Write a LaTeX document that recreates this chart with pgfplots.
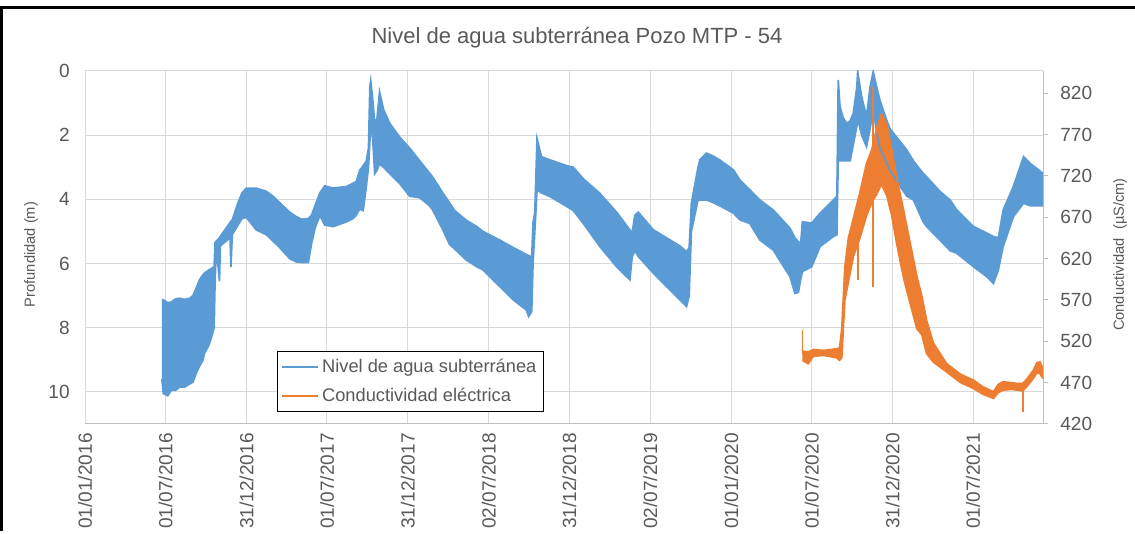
\documentclass[border=0pt]{standalone}
\usepackage{fontspec}
\setmainfont{Liberation Sans}
\usepackage{pgfplots}
\pgfplotsset{compat=1.18}
\usepackage{pgfplotstable}
\usepgfplotslibrary{fillbetween}
\definecolor{cblue}{HTML}{5B9BD5}
\definecolor{corange}{HTML}{ED7D31}
\definecolor{ctext}{HTML}{595959}
\definecolor{cgrid}{HTML}{D9D9D9}
\definecolor{caxis}{HTML}{BFBFBF}

\pgfplotstableread{
d u l
174 7.15 9.60
177 7.13 10.05
187 7.22 10.12
195 7.20 9.95
205 7.10 9.95
214 7.08 9.85
225 7.12 9.85
237 7.08 9.75
244 7.00 9.70
252 6.75 9.40
259 6.50 9.20
267 6.35 9.00
270 6.30 8.80
280 6.20 8.55
286 6.15 8.30
292 6.10 8.00
294 5.35 6.60
297 5.30 5.50
304 5.20 6.55
306 5.15 5.45
319 4.90 5.30
328 4.72 5.20
330 4.68 6.10
333 4.64 5.10
346 4.10 4.80
355 3.80 4.60
365 3.65 4.56
387 3.65 4.95
410 3.75 5.10
425 3.90 5.30
440 4.10 5.50
463 4.40 5.85
478 4.54 5.95
490 4.62 5.97
505 4.60 5.97
512 4.50 5.40
520 4.20 4.90
531 3.80 4.50
542 3.58 4.80
561 3.65 4.85
591 3.60 4.70
606 3.50 4.60
613 3.45 4.50
621 3.10 4.30
629 2.95 4.35
636 2.80 3.60
641 2.40 3.00
644 0.50 2.20
646 0.30 1.80
650 0.80 2.00
655 1.60 3.20
660 1.50 3.10
666 0.65 2.90
675 1.20 3.00
689 1.63 3.20
711 2.05 3.50
734 2.40 3.90
757 2.80 3.95
779 3.18 4.20
786 3.30 4.33
809 3.80 4.95
824 4.10 5.40
836 4.35 5.55
862 4.65 5.89
886 4.85 6.10
900 5.00 6.20
938 5.27 6.72
968 5.50 7.13
998 5.72 7.45
1003 5.75 7.65
1010 5.80 7.50
1013 4.74 6.00
1017 4.40 5.00
1022 2.10 3.70
1032 2.67 3.80
1051 2.77 3.91
1089 2.95 4.22
1104 3.00 4.35
1126 3.35 4.74
1164 3.81 5.47
1202 4.40 6.10
1232 4.95 6.51
1237 5.05 5.80
1243 4.50 5.60
1251 4.40 5.78
1285 4.95 6.30
1315 5.20 6.72
1345 5.45 7.13
1360 5.63 7.34
1366 5.50 7.00
1371 4.12 5.00
1386 3.00 4.02
1390 2.77 4.02
1405 2.56 4.02
1420 2.65 4.10
1435 2.77 4.20
1466 3.08 4.43
1481 3.40 4.64
1503 3.70 4.75
1526 4.02 5.27
1556 4.33 5.58
1594 4.90 6.41
1605 5.20 6.93
1613 5.32 6.90
1618 5.40 6.50
1622 4.70 6.25
1643 4.74 6.10
1662 4.43 5.47
1692 4.02 5.16
1700 3.90 5.10
1703 0.28 2.77
1707 1.10 2.80
1714 1.45 2.80
1722 1.63 2.80
1730 1.55 2.80
1737 1.32 2.30
1745 0.50 1.73
1747 0.02 1.50
1756 0.80 2.00
1767 1.42 2.36
1775 0.50 1.80
1782 0.02 1.20
1790 0.50 1.90
1797 0.90 2.40
1813 1.55 2.88
1820 1.80 3.10
1843 2.20 3.60
1858 2.46 3.90
1873 2.80 4.02
1895 3.19 4.70
1903 3.30 4.85
1933 3.75 5.27
1956 4.02 5.60
1971 4.33 5.68
2009 4.85 6.10
2039 5.05 6.41
2054 5.16 6.62
2065 5.20 6.20
2076 4.33 5.47
2099 3.60 4.54
2122 2.67 4.12
2137 2.88 4.20
2166 3.19 4.20
}\bluedata

\pgfplotstableread{
d u l
1622 508 497
1625 508 496
1635 507 493
1647 510 502
1670 509 503
1700 511 500
1706 512 497
1711 535 500
1718 610 570
1726 645 592
1737 668 622
1752 700 645
1767 735 672
1779 752 688
1790 778 698
1801 795 710
1813 782 696
1824 752 672
1836 716 636
1851 678 596
1866 638 565
1881 598 535
1892 575 528
1903 545 505
1918 518 495
1948 493 483
1980 480 470
2009 473 463
2030 465 456
2054 459 451
2065 468 458
2076 471 461
2095 470 462
2107 469 461
2120 469 460
2129 474 465
2144 485 475
2152 494 482
2159 495 481
2166 487 475
}\orangedata

\pgfplotstableread{
d c
1622 534
1622 505
nan nan
1748 670
1748 594
nan nan
1782 720
1782 828
nan nan
1782 700
1782 586
nan nan
2120 460
2120 434
}\orangespikes

\begin{document}
\begin{tikzpicture}
\begin{axis}[
  at={(0pt,0pt)}, anchor=south west,
  scale only axis, width=718.5pt, height=264.75pt,
  xmin=0, xmax=2166, ymin=0, ymax=11, y dir=reverse,
  axis line style={draw=none},
  xtick={0,182,365,547,730,913,1095,1278,1461,1643,1826,2008},
  xticklabels={01/01/2016,01/07/2016,31/12/2016,01/07/2017,31/12/2017,02/07/2018,31/12/2018,02/07/2019,01/01/2020,01/07/2020,31/12/2020,01/07/2021},
  ytick={0,2,...,10},
  extra y ticks={11}, extra y tick labels={},
  extra y tick style={grid=major, major grid style={caxis, line width=0.75pt}},
  grid=major, major grid style={cgrid, line width=0.75pt},
  major tick length=0pt,
  xticklabel shift=3.5pt,
  xticklabel style={rotate=90, anchor=east, font=\fontsize{14.3}{16}\selectfont, text=ctext},
  yticklabel style={font=\fontsize{14.3}{16}\selectfont, text=ctext, xshift=-8pt},
  /pgf/number format/assume math mode=true,
  ylabel={Profundidad (m)},
  ylabel style={at={(rel axis cs:-0.0564,0.48)}, anchor=center, font=\fontsize{11}{13}\selectfont, text=ctext},
]
\addplot[cblue, line width=1.3pt, name path=bu] table[x=d, y=u] {\bluedata};
\addplot[cblue, line width=1.3pt, name path=bl] table[x=d, y=l] {\bluedata};
\addplot[fill=cblue, draw=none] fill between[of=bu and bl];
\end{axis}
\begin{axis}[
  at={(0pt,0pt)}, anchor=south west,
  scale only axis, width=718.5pt, height=264.75pt,
  xmin=0, xmax=2166, ymin=420, ymax=847,
  axis x line=none, axis y line*=right,
  y axis line style={draw=caxis, line width=0.75pt},
  ytick={420,470,...,820},
  tick align=outside, major tick length=3.5pt,
  ytick style={draw=caxis, line width=0.75pt},
  yticklabel style={font=\fontsize{14.3}{16}\selectfont, text=ctext, xshift=6pt},
  /pgf/number format/assume math mode=true,
  unbounded coords=jump,
  ylabel={Conductividad\ \ (µS/cm)},
  ylabel style={at={(rel axis cs:1.0804,0.48)}, anchor=center, font=\fontsize{11}{13}\selectfont, text=ctext},
  legend style={at={(rel axis cs:0.2004,0.2068)}, anchor=north west, draw=black, line width=0.75pt, fill=white,
    font=\fontsize{13.7}{16}\selectfont, text=ctext, inner xsep=3pt, inner ysep=3.5pt, row sep=6.5pt},
  legend cell align=left,
  legend image code/.code={\draw[#1, line width=1.5pt] (0pt,0pt) -- (27pt,0pt);},
]
\addlegendimage{cblue}
\addlegendentry{Nivel de agua subterránea}
\addplot[corange, line width=1.3pt, name path=ou, forget plot] table[x=d, y=u] {\orangedata};
\addplot[corange, line width=1.3pt, name path=ol, forget plot] table[x=d, y=l] {\orangedata};
\addplot[fill=corange, draw=none, forget plot] fill between[of=ou and ol];
\addplot[corange, line width=1.3pt, forget plot] table[x=d, y=c] {\orangespikes};
\addlegendimage{corange}
\addlegendentry{Conductividad eléctrica}
\end{axis}
\node[font=\fontsize{16.5}{18}\selectfont, text=ctext] at (369pt,289.5pt) {Nivel de agua subterránea Pozo MTP - 54};
\fill[black] (-63.75pt,-80.25pt) rectangle (-61.5pt,313.5pt);
\fill[black] (-63.75pt,311.25pt) rectangle (787.5pt,313.5pt);
\path (-63.75pt,-80.25pt) rectangle (787.5pt,318pt);
\end{tikzpicture}
\end{document}
